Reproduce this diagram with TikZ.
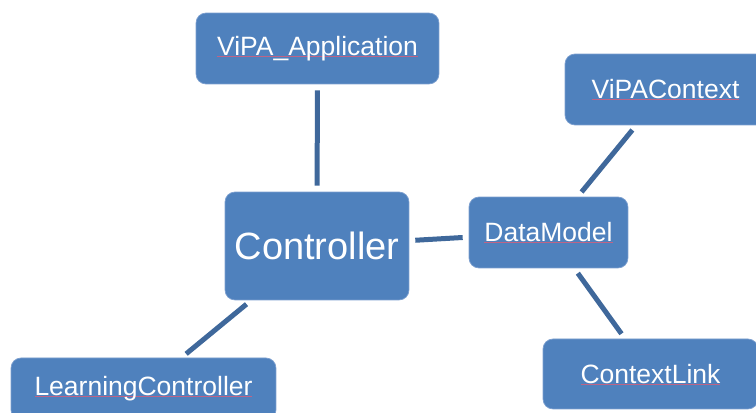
\documentclass[tikz,border=0pt]{standalone}
\usepackage{fontspec}
\setmainfont{Liberation Sans}
\usepackage{tkz-euclide}
\usepackage{tikz}

\definecolor{boxblue}{HTML}{4F81BD}
\definecolor{boxedge}{HTML}{7C9FCF}
\definecolor{linkblue}{HTML}{3F689B}
\definecolor{spellred}{HTML}{BE6486}

% spell checker mark under a word
\newlength{\spellw}
\newcommand{\spellmark}[1]{\settowidth{\spellw}{#1}\rlap{\textcolor{spellred}{\rule[-1.1pt]{\spellw}{0.5pt}}}#1}

\tikzset{
  module/.style={rectangle, rounded corners=10pt, fill=boxblue, draw=boxedge,
    line width=0.7pt, text=white, inner sep=0pt,
    font=\fontsize{26.5}{30}\selectfont},
  link/.style={draw=linkblue, line width=5pt, shorten >=6pt, shorten <=6pt}
}

\begin{document}
\begin{tikzpicture}[scale=0.3515]
    \useasboundingbox (0,0) rectangle (75.6,-41.2);
    \clip (0,0) rectangle (75.6,-41.2);
    \tkzDefPoints{31.75/-4.85/App,31.7/-24.6/Ctl,54.85/-23.25/DM,66.55/-8.95/Ctx,65.05/-37.4/Lnk,14.35/-38.9/LC}
    \node[module, minimum width=243pt, minimum height=71pt] (app) at (App) {\spellmark{ViPA\_Application}};
    \node[module, minimum width=184pt, minimum height=108pt,
      font=\fontsize{38}{44}\selectfont] (ctl) at (Ctl) {Controller};
    \node[module, minimum width=159pt, minimum height=71pt] (dm) at (DM) {\spellmark{DataModel}};
    \node[module, minimum width=201pt, minimum height=71pt] (ctx) at (Ctx) {\spellmark{ViPAContext}};
    \node[module, minimum width=215pt, minimum height=70pt] (lnk) at (Lnk) {\spellmark{ContextLink}};
    \node[module, minimum width=265pt, minimum height=62pt] (lc) at (LC) {\spellmark{LearningController}};
    \draw[link] (app) -- (ctl);
    \draw[link] (ctl) -- (dm);
    \draw[link] (ctl) -- (lc);
    \draw[link] (dm) -- (ctx);
    \draw[link] (dm) -- (lnk);
\end{tikzpicture}
\end{document}
